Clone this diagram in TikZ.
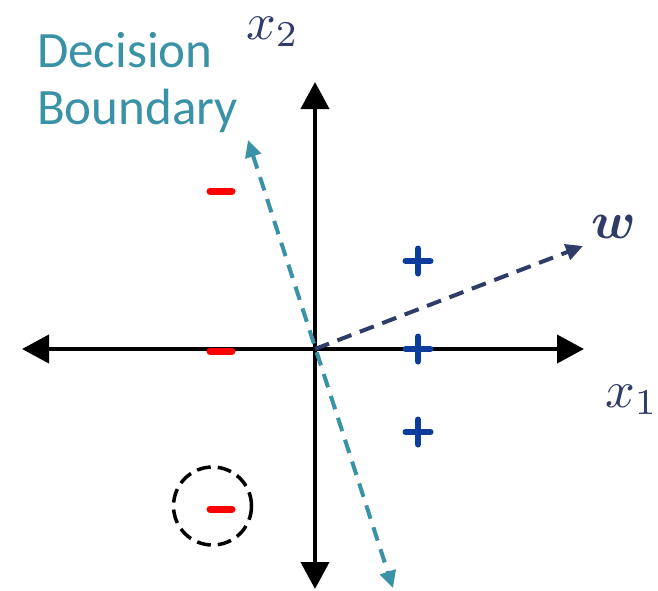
\documentclass[tikz,border=0pt]{standalone}
\usepackage{fontspec}
\usepackage{bm}
\usetikzlibrary{arrows.meta}
\newfontfamily\carlito{Carlito}
\definecolor{dbteal}{HTML}{3A92A6}
\definecolor{wnavy}{HTML}{2F3C68}
\definecolor{plusblue}{HTML}{0C3D9C}
\definecolor{minusred}{HTML}{FF0000}
\newcommand{\biglab}[1]{\scalebox{5.2}{$#1$}}
\tikzset{
  bigtip/.tip={Triangle[length=27pt,width=28pt]},
  smalltip/.tip={Triangle[length=17pt,width=16pt]},
  axisline/.style={line width=4pt, black, bigtip-bigtip},
  boundary/.style={line width=4pt, dbteal, dash pattern=on 14pt off 9pt, smalltip-smalltip},
  wvec/.style={line width=4pt, wnavy, dash pattern=on 15pt off 9pt, -smalltip},
  dbtext/.style={text=dbteal, font=\carlito\fontsize{51}{57}\selectfont, inner sep=0pt},
  mathlab/.style={text=wnavy, inner sep=0pt},
  ring/.style={circle, draw=black, line width=3.5pt, dash pattern=on 14pt off 7pt, minimum size=78pt, inner sep=0pt},
  plussign/.pic={\draw[plusblue, line width=6pt, line cap=round] (-12.5,0) -- (12.5,0) (0,-12.5) -- (0,12.5);},
  minussign/.pic={\draw[minusred, line width=7pt, line cap=round] (-11,0) -- (11,0);}
}
\begin{document}
\begin{tikzpicture}[x=1pt,y=-1pt]
\useasboundingbox (0,0) rectangle (658,590);
% axes
\coordinate (O) at (315,349);
\coordinate (L) at (22,349);
\coordinate (R) at (584,349);
\coordinate (T) at (315,82);
\coordinate (B) at (315,589);
\draw[axisline] (L) -- (R);
\draw[axisline] (T) -- (B);
% decision boundary and w
\coordinate (DBt) at (248,140);
\coordinate (DBb) at (393,588);
\coordinate (W) at (583,246);
\draw[boundary] (DBt) -- (DBb);
\draw[wvec] (O) -- (W);
% samples
\pic (p1) at (418,261) {plussign};
\pic (p2) at (418,349) {plussign};
\pic (p3) at (418,432) {plussign};
\pic (m1) at (221,191) {minussign};
\pic (m2) at (221,351) {minussign};
\pic (m3) at (221,509) {minussign};
\node[ring] (c) at (212.5,506) {};
% labels
\node[dbtext, anchor=north west, align=left] (db) at (37,32) {Decision\\Boundary};
\node[mathlab, anchor=base west] (x2) at (246,39) {\biglab{x_2}};
\node[mathlab, anchor=base west] (x1) at (605,407) {\biglab{x_1}};
\node[mathlab, anchor=base west] (w) at (591,238) {\biglab{\bm{w}}};
\end{tikzpicture}
\end{document}
